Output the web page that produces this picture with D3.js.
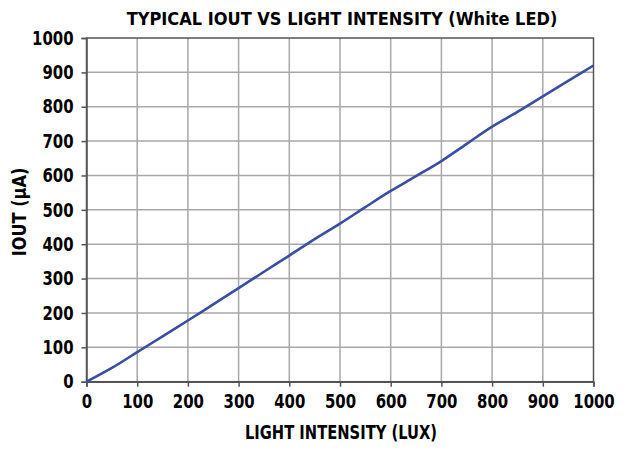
<!DOCTYPE html>
<html>
<head>
<meta charset="utf-8">
<script src="https://d3js.org/d3.v7.min.js"></script>
<style>
  body { margin: 0; background: #fff; }
  text { font-family: "DejaVu Sans Condensed", "DejaVu Sans", sans-serif; font-stretch: condensed; font-weight: bold; fill: #000; }
</style>
</head>
<body>
<div id="chart"></div>
<script>
// data
var lux  = [0, 50, 100, 150, 200, 250, 300, 350, 400, 450, 500, 550, 600, 650, 700, 750, 800, 850, 900, 950, 1000]
var iout = [0, 40, 86, 132, 178, 225, 272, 320, 367, 415, 460, 508, 555, 598, 642, 692, 742, 785, 830, 875, 920]
var xTicks = [0, 100, 200, 300, 400, 500, 600, 700, 800, 900, 1000]
var yTicks = [0, 100, 200, 300, 400, 500, 600, 700, 800, 900, 1000]

var width = 626, height = 450
var margin = {left: 86.5, right: 32.5, top: 38, bottom: 68.3}
var squeeze = 0.85  // narrow the glyphs a bit, the original font is condensed

var svg = d3.select("#chart").append("svg")
  .attr("width", width).attr("height", height)

var x = d3.scaleLinear().domain([0, 1000]).range([margin.left, width - margin.right])
var y = d3.scaleLinear().domain([0, 1000]).range([height - margin.bottom, margin.top])

// grid
svg.append("g").selectAll("line").data(xTicks.slice(1, -1)).enter().append("line")
  .attr("x1", d => x(d)).attr("x2", d => x(d))
  .attr("y1", y(0)).attr("y2", y(1000))
  .attr("stroke", "#a8a8a8").attr("stroke-width", 1.5)
svg.append("g").selectAll("line").data(yTicks.slice(1, -1)).enter().append("line")
  .attr("y1", d => y(d)).attr("y2", d => y(d))
  .attr("x1", x(0)).attr("x2", x(1000))
  .attr("stroke", "#a8a8a8").attr("stroke-width", 1.5)

// frame
svg.append("rect")
  .attr("x", x(0)).attr("y", y(1000))
  .attr("width", x(1000) - x(0)).attr("height", y(0) - y(1000))
  .attr("fill", "none").attr("stroke", "#555").attr("stroke-width", 1.5)

// axes
var xAxis = svg.append("g").attr("transform", "translate(0," + y(0) + ")")
  .call(d3.axisBottom(x).tickValues(xTicks).tickFormat(d3.format("d")).tickSize(5).tickPadding(7))
var yAxis = svg.append("g").attr("transform", "translate(" + x(0) + ",0)")
  .call(d3.axisLeft(y).tickValues(yTicks).tickFormat(d3.format("d")).tickSize(5).tickPadding(8))
;[xAxis, yAxis].forEach(function(a) {
  a.select(".domain").attr("stroke", "#555").attr("stroke-width", 1.5)
  a.selectAll(".tick line").attr("stroke", "#555").attr("stroke-width", 1.5)
  a.selectAll(".tick text").style("font-size", "19.5px").attr("fill", "#000")
    .each(function() {
      var t = d3.select(this)
      t.attr("x", (+t.attr("x") || 0) / squeeze).attr("transform", "scale(" + squeeze + ",1)")
    })
})
xAxis.selectAll("text").attr("dy", "0.75em")

// curve
var line = d3.line().x((d, i) => x(lux[i])).y(d => y(d)).curve(d3.curveMonotoneX)
svg.append("path").datum(iout)
  .attr("d", line)
  .attr("fill", "none").attr("stroke", "#3a4ea3").attr("stroke-width", 2.6)

// titles
svg.append("text").attr("x", 342).attr("y", 25).attr("text-anchor", "middle")
  .style("font-size", "18px").text("TYPICAL IOUT VS LIGHT INTENSITY (White LED)")
svg.append("text").attr("transform", "translate(341,439) scale(0.84,1)").attr("text-anchor", "middle")
  .style("font-size", "19.5px").text("LIGHT INTENSITY (LUX)")
svg.append("text").attr("transform", "translate(26,212) rotate(-90) scale(0.92,1)").attr("text-anchor", "middle")
  .style("font-size", "19.5px").text("IOUT (μA)")
</script>
</body>
</html>
